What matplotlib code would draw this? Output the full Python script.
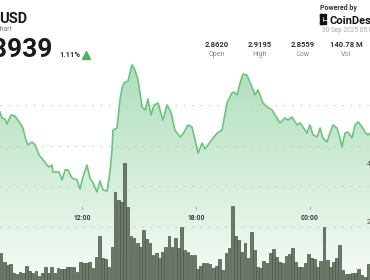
import numpy as np
import matplotlib.pyplot as plt
from matplotlib.patches import Rectangle

# price line (hours since 00:00 on 29 Sep, price in USD)
price_t = [7.68, 7.79, 7.95, 8.05, 8.26, 8.47, 8.63, 8.89, 9.05, 9.16, 9.37, 9.53, 9.74, 9.95,
           10.16, 10.26, 10.42, 10.47, 10.79, 10.95, 11.11, 11.26, 11.47, 11.74, 11.89, 12.05,
           12.26, 12.42, 12.58, 12.79, 12.95, 13.11, 13.32, 13.47, 13.58, 13.63, 13.84, 14.00,
           14.11, 14.21, 14.42, 14.63, 14.79, 14.95, 15.16, 15.32, 15.47, 15.63, 15.79, 16.00,
           16.26, 16.47, 16.68, 16.89, 17.16, 17.32, 17.58, 17.79, 17.95, 18.11, 18.32, 18.47,
           18.74, 19.11, 19.37, 19.63, 19.89, 20.00, 20.16, 20.32, 20.47, 20.68, 20.95, 21.11,
           21.26, 21.53, 21.74, 22.00, 22.16, 22.42, 22.68, 22.84, 23.05, 23.32, 23.47, 23.63,
           23.84, 24.00, 24.16, 24.37, 24.53, 24.68, 24.89, 25.05, 25.21, 25.42, 25.58, 25.68,
           25.84, 26.00, 26.21, 26.37, 26.53, 26.74, 26.89, 27.05, 27.16]
price = [2.8966, 2.8936, 2.8931, 2.8907, 2.8951, 2.8946, 2.8926, 2.8887, 2.8828, 2.8804, 2.8818,
         2.8804, 2.8754, 2.8730, 2.8705, 2.8695, 2.8705, 2.8671, 2.8671, 2.8632, 2.8681, 2.8681,
         2.8641, 2.8632, 2.8587, 2.8646, 2.8705, 2.8641, 2.8617, 2.8573, 2.8627, 2.8582, 2.8577,
         2.8671, 2.8779, 2.8877, 2.8887, 2.9025, 2.9084, 2.9108, 2.9118, 2.9197, 2.9172, 2.9123,
         2.8990, 2.8976, 2.9030, 2.8951, 2.9000, 2.9010, 2.8926, 2.9000, 2.8966, 2.8877, 2.8843,
         2.8858, 2.8902, 2.8892, 2.8828, 2.8764, 2.8813, 2.8784, 2.8818, 2.8862, 2.8877, 2.9010,
         2.9059, 2.9064, 2.9049, 2.9108, 2.9152, 2.9147, 2.9088, 2.9049, 2.9074, 2.9010, 2.8990,
         2.8976, 2.8951, 2.8912, 2.8936, 2.8926, 2.8941, 2.8902, 2.8912, 2.8892, 2.8862, 2.8902,
         2.8853, 2.8843, 2.8887, 2.8838, 2.8818, 2.8862, 2.8902, 2.8887, 2.8838, 2.8794, 2.8862,
         2.8867, 2.8838, 2.8902, 2.8917, 2.8892, 2.8867, 2.8853, 2.8862]

# 10 minute volume bars, millions, first bar at 07:40
vol_start = 7 + 40 / 60
vol = [0.93, 0.62, 0.52, 0.55, 0.24, 0.21, 0.28, 0.24, 0.48, 0.31, 0.24, 0.31, 0.14, 0.24, 0.45,
       0.24, 0.45, 0.24, 0.41, 0.38, 0.38, 0.45, 0.45, 0.45, 0.28, 0.62, 0.59, 0.59, 0.62, 0.41,
       0.79, 1.52, 0.76, 0.72, 0.45, 1.14, 3.04, 2.76, 2.69,
       4.04, 2.52, 1.52, 1.45, 1.28, 1.14, 1.73, 1.41, 1.28, 0.86, 0.93, 0.76, 0.97, 1.14, 1.52,
       1.14, 1.45, 1.10, 1.83, 1.04, 0.97, 0.86, 0.86, 0.38, 0.48, 0.59, 0.59, 0.55, 0.41, 0.48,
       0.72, 0.35, 0.93, 1.10, 2.55, 1.52, 1.38, 0.97, 1.28,
       0.76, 1.66, 1.04, 0.45, 0.41, 0.66, 0.59, 0.93, 1.07, 0.79, 0.62, 0.59, 0.83, 0.90, 1.10,
       0.62, 0.45, 0.45, 0.59, 0.90, 0.76, 0.72, 0.45, 0.66, 1.83, 0.69, 0.45, 0.62, 0.76, 1.21,
       0.35, 0.21, 0.21, 0.24, 0.24, 0.38, 0.17, 0.10, 0.55]

grid_prices = [2.90, 2.88, 2.86, 2.84]
tick_hours = [12, 18, 24]
tick_labels = ["12:00", "18:00", "00:00"]
vol_ticks = [4, 2]
vol_tick_labels = ["4M", "2M"]

stat_values = ["2.8620", "2.9195", "2.8559", "140.78 M"]
stat_names = ["Open", "High", "Low", "Vol"]

plt.rcParams['font.family'] = ['Roboto', 'DejaVu Sans']

W, H = 370, 280
fig = plt.figure(figsize=(3.7, 2.8), dpi=100)
ax = fig.add_axes([0, 0, 1, 1])
x0, x1 = 7.684, 27.158
p0, p1 = 2.814, 2.9516
ax.set_xlim(x0, x1)
ax.set_ylim(p0, p1)
ax.axis('off')

# gradient area under the price
top = np.array([155, 214, 170]) / 255
bot = np.array([246, 251, 247]) / 255
f = np.linspace(0, 1, 256)[:, None]
grad = (top * (1 - f) + bot * f).reshape(256, 1, 3)
im = ax.imshow(grad, extent=[x0, x1, p0, p1], aspect='auto', origin='upper', zorder=1)
poly = ax.fill_between(price_t, price, p0, color='none')
im.set_clip_path(poly.get_paths()[0], transform=ax.transData)

for g in grid_prices:
    ax.axhline(g, color='#cccccc', lw=0.8, ls=(0, (1.5, 6)), zorder=2)

# volume on its own scale
axv = ax.twinx()
axv.set_ylim(0, 9.66)
axv.axis('off')
bar_t = vol_start + np.arange(len(vol)) / 6
axv.bar(bar_t, vol, width=1 / 6 * 0.88, align='edge', color='#6d796a',
        edgecolor='#4a5548', lw=0.5, zorder=3)

axv.plot(price_t, price, color='#6cc57f', lw=1.2, transform=ax.transData, zorder=5,
         solid_joinstyle='round')

for h, lab in zip(tick_hours, tick_labels):
    axv.plot([h, h], [0.253, 0.262], color='#999999', lw=0.6,
             transform=axv.get_xaxis_transform(), zorder=6)
    axv.text(h, 0.214, lab, ha='center', va='baseline', fontsize=4.9, fontweight='bold',
             color='#333a44', transform=axv.get_xaxis_transform(), zorder=6)

for v, lab in zip(vol_ticks, vol_tick_labels):
    axv.text(x1 - 0.16, v, lab, ha='left', va='center', fontsize=5, color='#555555', zorder=6)


def px(x, y):
    return x / W, 1 - y / H


# header, left
fig.text(*px(-1, 23), "USD", fontsize=10.5, fontweight='bold', color='#1a1a1a', va='baseline')
fig.text(*px(13, 31), "Chart", fontsize=5, color='#808080', ha='right', va='baseline')
fig.text(*px(52, 57), "2.8939", fontsize=19, fontweight='bold', color='#1a1a1a',
         ha='right', va='baseline')
fig.text(*px(59, 57), "1.11%", fontsize=5.5, fontweight='bold', color='#333333', va='baseline')
ax.plot(*px(86, 54.5), marker='^', ms=5.5, color='#4fb060', transform=fig.transFigure)

# header, right
fig.text(*px(320, 10), "Powered by", fontsize=5, fontweight='bold', color='#333333', va='baseline')
for rx, ry, rw, rh in [(320, 14, 1.6, 10), (320, 14, 6, 1.6), (320, 22.4, 6, 1.6),
                       (324, 17.5, 1.6, 1.6), (324, 20.5, 1.6, 1.6)]:
    fig.add_artist(Rectangle(px(rx, ry + rh), rw / W, rh / H, color='#111111',
                             transform=fig.transFigure))
fig.text(*px(329, 24), "CoinDesk", fontsize=8, fontweight='bold', color='#111111', va='baseline')
fig.text(*px(322, 32), "30 Sep 2025 05:00", fontsize=4.7, color='#aaaaaa', va='baseline')

for cx, v, n in zip([217, 260, 303, 346], stat_values, stat_names):
    fig.text(*px(cx, 47), v, fontsize=5.5, fontweight='bold', color='#333333',
             ha='center', va='baseline')
    fig.text(*px(cx, 56), n, fontsize=5, color='#888888', ha='center', va='baseline')

fig.savefig("out.png", dpi=100)
